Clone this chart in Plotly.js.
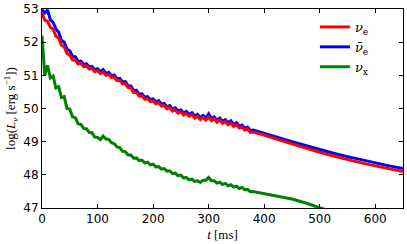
<!DOCTYPE html>
<html>
<head>
<meta charset="utf-8">
<script src="https://cdn.plot.ly/plotly-3.0.1.min.js"></script>
<style>html,body{margin:0;padding:0;background:#fff;}#chart{width:407px;height:244px;}</style>
</head>
<body>
<div id="chart"></div>
<script>
// time samples in ms
const times = [0,5,10,15,20,25,30,35,40,45,50,55,60,65,70,75,80,85,90,95,100,105,110,115,120,125,130,135,140,145,150,155,160,165,170,175,180,185,190,195,200,205,210,215,220,225,230,235,240,245,250,255,260,265,270,275,280,285,290,295,300,305,310,315,320,325,330,335,340,345,350,355,360,365,370,375,380,400,425,450,475,500,525,550,575,600,625,650];

// log(L_nu) for nu_e
const nuE = [52.88,52.66,52.63,52.45,52.39,52.18,52.13,51.91,51.86,51.66,51.61,51.46,51.46,51.34,51.36,51.26,51.29,51.19,51.21,51.11,51.14,51.05,51.1,51.0,51.03,50.93,50.95,50.84,50.85,50.74,50.75,50.63,50.62,50.48,50.49,50.37,50.38,50.28,50.3,50.21,50.23,50.14,50.17,50.07,50.09,49.99,50.03,49.92,49.96,49.86,49.9,49.8,49.85,49.76,49.81,49.71,49.76,49.67,49.73,49.65,49.74,49.63,49.69,49.59,49.65,49.55,49.6,49.51,49.57,49.46,49.51,49.41,49.44,49.35,49.38,49.28,49.29,49.2,49.06,48.93,48.8,48.68,48.57,48.46,48.36,48.27,48.18,48.1];

// log(L_nu) for anti-nu_e
const nuEbar = [52.98,52.88,52.97,52.68,52.6,52.4,52.3,52.06,52.0,51.79,51.74,51.57,51.56,51.42,51.43,51.32,51.35,51.25,51.27,51.17,51.2,51.11,51.17,51.06,51.09,50.99,51.01,50.9,50.91,50.8,50.81,50.69,50.68,50.54,50.55,50.43,50.44,50.34,50.36,50.27,50.29,50.2,50.24,50.13,50.15,50.05,50.09,49.98,50.02,49.92,49.96,49.86,49.91,49.82,49.87,49.77,49.82,49.73,49.79,49.71,49.84,49.69,49.75,49.65,49.71,49.61,49.66,49.57,49.63,49.52,49.57,49.47,49.5,49.41,49.44,49.34,49.35,49.26,49.13,49.0,48.88,48.76,48.65,48.55,48.45,48.36,48.27,48.19];

// log(L_nu) for nu_x
const nuX = [52.2,51.0,51.3,50.92,50.98,50.62,50.66,50.33,50.36,50.0,49.98,49.75,49.72,49.54,49.52,49.4,49.39,49.28,49.27,49.14,49.13,49.06,49.17,49.08,49.07,48.97,48.94,48.84,48.82,48.71,48.7,48.6,48.6,48.5,48.51,48.43,48.44,48.36,48.38,48.3,48.32,48.24,48.25,48.17,48.19,48.11,48.12,48.04,48.05,47.97,47.99,47.91,47.92,47.85,47.87,47.8,47.82,47.77,47.84,47.84,47.92,47.82,47.82,47.75,47.78,47.71,47.74,47.67,47.7,47.63,47.66,47.59,47.62,47.55,47.56,47.49,47.5,47.44,47.36,47.27,47.15,47.0,46.86,46.72,46.58,46.44,46.3,46.16];

const xTicks = [0,100,200,300,400,500,600];
const yTicks = [47,48,49,50,51,52,53];

const serif = 'DejaVu Serif, Liberation Serif, serif';
const sans = 'DejaVu Sans, sans-serif';

const traces = [
  {x: times, y: nuEbar, name: '<i>ν̄</i><sub>e</sub>', mode: 'lines', line: {color: '#0000ff', width: 3}, legendrank: 2},
  {x: times, y: nuE, name: '<i>ν</i><sub>e</sub>', mode: 'lines', line: {color: '#ff0000', width: 3}, legendrank: 1},
  {x: times, y: nuX, name: '<i>ν</i><sub>x</sub>', mode: 'lines', line: {color: '#008000', width: 3}, legendrank: 3}
];

const axisCommon = {
  showgrid: false, zeroline: false, showline: true, linecolor: '#000', linewidth: 1,
  ticks: 'inside', ticklen: 4, tickwidth: 1, tickcolor: '#000', mirror: 'allticks',
  tickfont: {family: sans, size: 12, color: '#000'}
};

const layout = {
  width: 407, height: 244,
  margin: {l: 42, r: 4, t: 9, b: 36},
  paper_bgcolor: '#fff', plot_bgcolor: '#fff',
  showlegend: true,
  legend: {x: 0.756, y: 0.985, xanchor: 'left', yanchor: 'top', bgcolor: 'rgba(0,0,0,0)',
           font: {family: serif, size: 13, color: '#000'}, tracegroupgap: 0},
  xaxis: Object.assign({}, axisCommon, {range: [0, 650], tickvals: xTicks, ticktext: xTicks.map(String),
    title: {text: '<i>t</i> [ms]', font: {family: 'Liberation Serif, serif', size: 13, color: '#000'}, standoff: 4}}),
  yaxis: Object.assign({}, axisCommon, {range: [47, 53], tickvals: yTicks, ticktext: yTicks.map(String),
    title: {text: 'log(<i>L</i><sub><i>ν</i></sub> [erg s<sup>−1</sup>])', font: {family: 'Liberation Serif, serif', size: 13, color: '#000'}, standoff: 4}})
};

Plotly.newPlot('chart', traces, layout, {staticPlot: true, displayModeBar: false});
</script>
</body>
</html>
